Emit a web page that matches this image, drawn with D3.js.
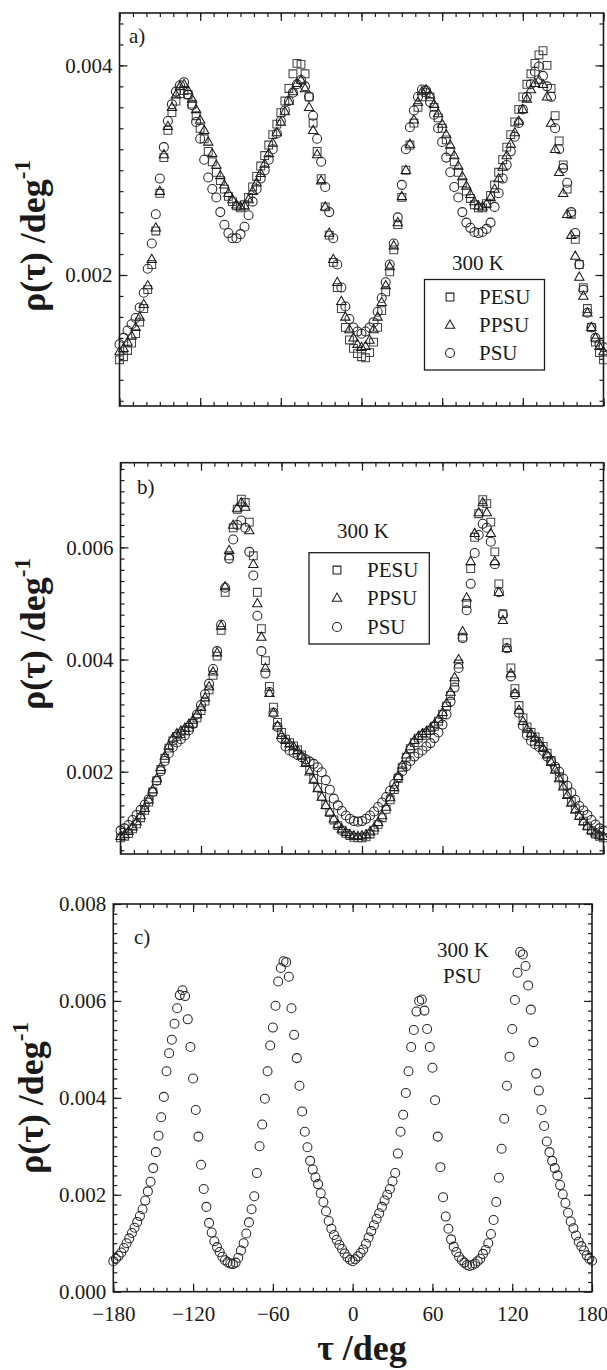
<!DOCTYPE html>
<html><head><meta charset="utf-8">
<script src="https://cdn.jsdelivr.net/npm/d3@7"></script>
<style>
body{margin:0;background:#fff}
svg{display:block}
svg text{font-family:"Liberation Serif","Times New Roman",Times,"DejaVu Serif",serif !important;fill:#1a1a1a}
</style>
</head><body>
<svg id="chart" width="607" height="1370"></svg>
<script>
// ---------- DATA ----------
const tauAB = [
-180,-177,-174,-171,-168,-165,-162,-159,-156,-153,
-150,-147,-144,-141,-138,-135,-132,-129,-126,-123,
-120,-117,-114,-111,-108,-105,-102,-99,-96,-93,
-90,-87,-84,-81,-78,-75,-72,-69,-66,-63,
-60,-57,-54,-51,-48,-45,-42,-39,-36,-33,
-30,-27,-24,-21,-18,-15,-12,-9,-6,-3,
0,3,6,9,12,15,18,21,24,27,
30,33,36,39,42,45,48,51,54,57,
60,63,66,69,72,75,78,81,84,87,
90,93,96,99,102,105,108,111,114,117,
120,123,126,129,132,135,138,141,144,147,
150,153,156,159,162,165,168,171,174,177,
180];

// panel a)
const aPESU = [
0.00119,0.00122,0.00128,0.00135,0.00144,0.00155,0.00168,0.00186,0.00210,0.00242,
0.00278,0.00312,0.00338,0.00355,0.00366,0.00373,0.00376,0.00372,0.00363,0.00352,
0.00340,0.00330,0.00318,0.00308,0.00298,0.00290,0.00282,0.00275,0.00270,0.00266,
0.00264,0.00267,0.00274,0.00284,0.00294,0.00304,0.00314,0.00324,0.00334,0.00344,
0.00355,0.00366,0.00378,0.00392,0.00402,0.00401,0.00392,0.00370,0.00345,0.00318,
0.00292,0.00265,0.00238,0.00212,0.00188,0.00168,0.00150,0.00138,0.00130,0.00125,
0.00122,0.00121,0.00126,0.00136,0.00150,0.00166,0.00184,0.00203,0.00224,0.00248,
0.00274,0.00300,0.00324,0.00345,0.00360,0.00370,0.00374,0.00370,0.00360,0.00350,
0.00340,0.00329,0.00318,0.00308,0.00298,0.00288,0.00280,0.00273,0.00267,0.00264,
0.00264,0.00268,0.00276,0.00286,0.00298,0.00310,0.00322,0.00334,0.00346,0.00358,
0.00370,0.00382,0.00392,0.00402,0.00410,0.00414,0.00400,0.00378,0.00352,0.00328,
0.00305,0.00282,0.00258,0.00234,0.00210,0.00188,0.00168,0.00150,0.00136,0.00126,
0.00119];
const aPPSU = [
0.00127,0.00130,0.00136,0.00142,0.00150,0.00160,0.00172,0.00190,0.00215,0.00245,
0.00280,0.00315,0.00342,0.00360,0.00372,0.00380,0.00382,0.00376,0.00368,0.00358,
0.00348,0.00338,0.00327,0.00316,0.00305,0.00295,0.00286,0.00278,0.00272,0.00267,
0.00265,0.00266,0.00272,0.00280,0.00288,0.00297,0.00306,0.00316,0.00326,0.00336,
0.00346,0.00356,0.00366,0.00375,0.00383,0.00386,0.00378,0.00360,0.00338,0.00315,
0.00290,0.00265,0.00240,0.00215,0.00193,0.00175,0.00160,0.00148,0.00140,0.00134,
0.00131,0.00132,0.00138,0.00148,0.00160,0.00174,0.00190,0.00208,0.00228,0.00250,
0.00275,0.00300,0.00325,0.00348,0.00365,0.00375,0.00377,0.00372,0.00363,0.00354,
0.00344,0.00334,0.00324,0.00314,0.00304,0.00294,0.00285,0.00277,0.00270,0.00266,
0.00265,0.00268,0.00274,0.00282,0.00292,0.00303,0.00314,0.00325,0.00336,0.00347,
0.00358,0.00368,0.00377,0.00383,0.00386,0.00382,0.00370,0.00345,0.00320,0.00298,
0.00278,0.00258,0.00238,0.00218,0.00198,0.00180,0.00164,0.00150,0.00140,0.00132,
0.00127];
const aPSU = [
0.00134,0.00140,0.00147,0.00153,0.00159,0.00169,0.00183,0.00206,0.00230,0.00258,
0.00292,0.00322,0.00347,0.00363,0.00375,0.00381,0.00384,0.00372,0.00362,0.00346,
0.00330,0.00310,0.00293,0.00282,0.00274,0.00260,0.00248,0.00240,0.00235,0.00235,
0.00239,0.00246,0.00257,0.00270,0.00282,0.00292,0.00300,0.00310,0.00320,0.00335,
0.00347,0.00357,0.00366,0.00374,0.00382,0.00386,0.00380,0.00370,0.00352,0.00330,
0.00308,0.00284,0.00260,0.00235,0.00210,0.00188,0.00170,0.00158,0.00150,0.00146,
0.00144,0.00146,0.00150,0.00155,0.00165,0.00178,0.00193,0.00210,0.00230,0.00255,
0.00286,0.00320,0.00341,0.00357,0.00370,0.00377,0.00376,0.00365,0.00353,0.00340,
0.00327,0.00312,0.00298,0.00284,0.00274,0.00260,0.00250,0.00245,0.00241,0.00240,
0.00241,0.00244,0.00250,0.00265,0.00278,0.00292,0.00305,0.00318,0.00332,0.00345,
0.00358,0.00370,0.00382,0.00394,0.00399,0.00390,0.00380,0.00370,0.00340,0.00320,
0.00302,0.00288,0.00260,0.00240,0.00210,0.00186,0.00164,0.00150,0.00140,0.00134,
0.00131];

// panel b)
const bPESU = [
0.00082,0.00085,0.00090,0.00098,0.00107,0.00118,0.00131,0.00146,0.00164,0.00184,
0.00204,0.00224,0.00242,0.00255,0.00263,0.00268,0.00273,0.00279,0.00286,0.00296,
0.00309,0.00326,0.00346,0.00372,0.00406,0.00452,0.00520,0.00585,0.00635,0.00668,
0.00686,0.00680,0.00645,0.00585,0.00520,0.00455,0.00398,0.00352,0.00315,0.00288,
0.00270,0.00258,0.00252,0.00246,0.00239,0.00230,0.00218,0.00204,0.00188,0.00172,
0.00156,0.00141,0.00127,0.00114,0.00104,0.00096,0.00090,0.00086,0.00083,0.00082,
0.00082,0.00084,0.00089,0.00096,0.00106,0.00118,0.00133,0.00150,0.00168,0.00188,
0.00208,0.00226,0.00241,0.00252,0.00260,0.00265,0.00269,0.00274,0.00281,0.00290,
0.00302,0.00317,0.00336,0.00360,0.00392,0.00440,0.00500,0.00562,0.00618,0.00660,
0.00685,0.00678,0.00645,0.00592,0.00535,0.00482,0.00430,0.00385,0.00348,0.00318,
0.00296,0.00280,0.00270,0.00262,0.00254,0.00245,0.00233,0.00220,0.00206,0.00191,
0.00176,0.00161,0.00147,0.00134,0.00122,0.00112,0.00103,0.00095,0.00089,0.00085,
0.00082];
const bPPSU = [
0.00085,0.00088,0.00094,0.00102,0.00111,0.00122,0.00135,0.00150,0.00168,0.00188,
0.00208,0.00228,0.00246,0.00260,0.00268,0.00273,0.00278,0.00285,0.00292,0.00302,
0.00315,0.00332,0.00352,0.00378,0.00412,0.00460,0.00530,0.00595,0.00640,0.00670,
0.00680,0.00672,0.00630,0.00570,0.00500,0.00440,0.00385,0.00340,0.00305,0.00282,
0.00265,0.00256,0.00250,0.00245,0.00238,0.00228,0.00215,0.00200,0.00185,0.00170,
0.00155,0.00140,0.00128,0.00116,0.00106,0.00098,0.00092,0.00088,0.00086,0.00085,
0.00086,0.00088,0.00093,0.00100,0.00110,0.00122,0.00137,0.00154,0.00172,0.00192,
0.00212,0.00230,0.00245,0.00256,0.00263,0.00268,0.00272,0.00278,0.00285,0.00294,
0.00306,0.00322,0.00342,0.00368,0.00400,0.00450,0.00510,0.00575,0.00625,0.00662,
0.00680,0.00662,0.00625,0.00575,0.00520,0.00470,0.00420,0.00375,0.00340,0.00310,
0.00290,0.00276,0.00268,0.00260,0.00252,0.00242,0.00230,0.00217,0.00203,0.00188,
0.00173,0.00158,0.00144,0.00132,0.00121,0.00111,0.00103,0.00096,0.00091,0.00087,
0.00085];
const bPSU = [
0.00095,0.00099,0.00105,0.00114,0.00123,0.00132,0.00141,0.00151,0.00164,0.00184,
0.00201,0.00219,0.00233,0.00244,0.00252,0.00258,0.00265,0.00274,0.00285,0.00302,
0.00319,0.00338,0.00357,0.00383,0.00415,0.00462,0.00528,0.00580,0.00614,0.00640,
0.00648,0.00635,0.00592,0.00550,0.00478,0.00415,0.00375,0.00342,0.00305,0.00280,
0.00260,0.00245,0.00238,0.00234,0.00230,0.00226,0.00222,0.00218,0.00214,0.00208,
0.00199,0.00185,0.00168,0.00152,0.00140,0.00130,0.00122,0.00116,0.00112,0.00111,
0.00112,0.00116,0.00122,0.00129,0.00137,0.00145,0.00155,0.00166,0.00178,0.00190,
0.00201,0.00210,0.00219,0.00227,0.00233,0.00238,0.00245,0.00251,0.00260,0.00270,
0.00284,0.00302,0.00325,0.00350,0.00385,0.00438,0.00488,0.00535,0.00590,0.00622,
0.00642,0.00635,0.00610,0.00570,0.00520,0.00480,0.00420,0.00370,0.00338,0.00305,
0.00282,0.00265,0.00255,0.00249,0.00244,0.00237,0.00227,0.00218,0.00209,0.00200,
0.00188,0.00175,0.00163,0.00150,0.00139,0.00131,0.00123,0.00114,0.00106,0.00099,
0.00095];

// panel c)
const tauC = [
-180,-178,-176,-174,-172,-170,-168,-166,-164,-162,
-160,-158,-156,-154,-152,-150,-148,-146,-144,-142,
-140,-138,-136,-134,-132,-130,-128,-126,-124,-122,
-120,-118,-116,-114,-112,-110,-108,-106,-104,-102,
-100,-98,-96,-94,-92,-90,-88,-86,-84,-82,
-80,-78,-76,-74,-72,-70,-68,-66,-64,-62,
-60,-58,-56,-54,-52,-50,-48,-46,-44,-42,
-40,-38,-36,-34,-32,-30,-28,-26,-24,-22,
-20,-18,-16,-14,-12,-10,-8,-6,-4,-2,
0,2,4,6,8,10,12,14,16,18,
20,22,24,26,28,30,32,34,36,38,
40,42,44,46,48,50,52,54,56,58,
60,62,64,66,68,70,72,74,76,78,
80,82,84,86,88,90,92,94,96,98,
100,102,104,106,108,110,112,114,116,118,
120,122,124,126,128,130,132,134,136,138,
140,142,144,146,148,150,152,154,156,158,
160,162,164,166,168,170,172,174,176,178,
180];
const cPSU = [
0.00063,0.00068,0.00074,0.00081,0.00090,0.00100,0.00110,0.00121,0.00132,0.00144,
0.00156,0.00170,0.00188,0.00207,0.00227,0.00255,0.00288,0.00322,0.00360,0.00402,
0.00455,0.00492,0.00520,0.00553,0.00585,0.00612,0.00622,0.00610,0.00562,0.00505,
0.00440,0.00375,0.00320,0.00262,0.00212,0.00175,0.00142,0.00122,0.00104,0.00092,
0.00082,0.00072,0.00065,0.00061,0.00058,0.00057,0.00060,0.00070,0.00085,0.00100,
0.00120,0.00143,0.00170,0.00197,0.00245,0.00300,0.00345,0.00398,0.00455,0.00508,
0.00545,0.00590,0.00640,0.00668,0.00682,0.00680,0.00650,0.00585,0.00530,0.00482,
0.00425,0.00372,0.00330,0.00298,0.00270,0.00252,0.00236,0.00222,0.00203,0.00185,
0.00166,0.00146,0.00130,0.00117,0.00107,0.00097,0.00088,0.00079,0.00071,0.00066,
0.00063,0.00067,0.00073,0.00080,0.00087,0.00099,0.00112,0.00125,0.00137,0.00150,
0.00162,0.00175,0.00188,0.00200,0.00212,0.00228,0.00245,0.00285,0.00330,0.00365,
0.00410,0.00455,0.00505,0.00540,0.00578,0.00600,0.00603,0.00580,0.00542,0.00505,
0.00462,0.00395,0.00320,0.00257,0.00195,0.00155,0.00130,0.00108,0.00093,0.00082,
0.00072,0.00065,0.00060,0.00055,0.00053,0.00055,0.00058,0.00063,0.00068,0.00078,
0.00086,0.00100,0.00119,0.00148,0.00185,0.00235,0.00295,0.00357,0.00425,0.00485,
0.00542,0.00602,0.00658,0.00701,0.00696,0.00672,0.00632,0.00582,0.00515,0.00450,
0.00415,0.00375,0.00342,0.00310,0.00288,0.00270,0.00255,0.00240,0.00220,0.00201,
0.00183,0.00163,0.00145,0.00131,0.00116,0.00103,0.00094,0.00085,0.00075,0.00068,
0.00064];

const seriesNames = ["PESU", "PPSU", "PSU"];
const xTickLabels = [-180, -120, -60, 0, 60, 120, 180];
const yTicksA = [0.002, 0.004];
const yTicksB = [0.002, 0.004, 0.006];
const yTicksC = [0.000, 0.002, 0.004, 0.006, 0.008];
const panelTags = ["a)", "b)", "c)"];
const tempLabel = "300 K";

// ---------- DRAW ----------
const FONT = '"Liberation Serif","Times New Roman",Times,"DejaVu Serif",serif';
const svg = d3.select("#chart");
const INK = "#1c1c1c";

function txt(sel) { return sel.style("font-family", FONT).attr("fill", INK); }

function symbolPath(kind) {
  if (kind === "PESU") return "M-3.9,-3.9H3.9V3.9H-3.9Z";
  if (kind === "PPSU") return "M0,-5.0L4.7,3.2H-4.7Z";
  return null;
}
function drawMarker(g, kind, cx, cy, color) {
  if (kind === "PSU") {
    g.append("circle").attr("cx", cx).attr("cy", cy).attr("r", 4.5)
      .attr("fill", "none").attr("stroke", color).attr("stroke-width", 1.05);
  } else {
    g.append("path").attr("d", symbolPath(kind)).attr("transform", `translate(${cx},${cy})`)
      .attr("fill", "none").attr("stroke", color).attr("stroke-width", 1.05);
  }
}
const markerColor = {PESU: "#444", PPSU: "#1a1a1a", PSU: "#262626"};

function panel(p) {
  const x = d3.scaleLinear().domain([-180, 180]).range([p.left, p.right]);
  const y = d3.scaleLinear().domain(p.yDomain).range([p.bottom, p.top]);
  const g = svg.append("g");

  p.series.forEach(s => {
    const sg = g.append("g");
    s.values.forEach((v, i) => drawMarker(sg, s.name, x(p.tau[i]), y(v), markerColor[s.name]));
  });

  const minorX = d3.range(-180, 181, 10);
  const minorY = d3.range(0, 0.0081, 0.0002).filter(v => v > p.yDomain[0] + 1e-7 && v < p.yDomain[1] - 1e-7);
  const mk = (axis, tx, ty) => {
    const a = g.append("g").attr("transform", `translate(${tx},${ty})`).call(axis);
    a.select(".domain").remove();
    a.selectAll("line").attr("stroke", INK).attr("stroke-width", 1.2);
    return a;
  };
  mk(d3.axisBottom(x).tickValues(minorX).tickSize(-4).tickFormat(""), 0, p.bottom);
  mk(d3.axisTop(x).tickValues(minorX).tickSize(-4).tickFormat(""), 0, p.top);
  mk(d3.axisBottom(x).tickValues(xTickLabels).tickSize(-8).tickFormat(""), 0, p.bottom);
  mk(d3.axisTop(x).tickValues(xTickLabels).tickSize(-8).tickFormat(""), 0, p.top);
  mk(d3.axisLeft(y).tickValues(minorY).tickSize(-4).tickFormat(""), p.left, 0);
  mk(d3.axisRight(y).tickValues(minorY).tickSize(-4).tickFormat(""), p.right, 0);
  const yl = mk(d3.axisLeft(y).tickValues(p.yTicks).tickSize(-8).tickPadding(7).tickFormat(d3.format(".3f")), p.left, 0);
  yl.attr("font-family", null).attr("font-size", null);
  txt(yl.selectAll("text").attr("font-size", 21));
  mk(d3.axisRight(y).tickValues(p.yTicks).tickSize(-8).tickFormat(""), p.right, 0);
  if (p.xLabels) {
    const xl = mk(d3.axisBottom(x).tickValues(xTickLabels).tickSize(0).tickPadding(14).tickFormat(d3.format("d")), 0, p.bottom);
    xl.attr("font-family", null).attr("font-size", null);
    txt(xl.selectAll("text").attr("font-size", 21));
  }

  g.append("rect").attr("x", p.left).attr("y", p.top)
    .attr("width", p.right - p.left).attr("height", p.bottom - p.top)
    .attr("fill", "none").attr("stroke", INK).attr("stroke-width", 1.6);

  txt(g.append("text").attr("x", p.tag[0]).attr("y", p.tag[1]).attr("font-size", 21).text(p.tagText));

  const t = txt(g.append("text")
    .attr("transform", `translate(${p.titleX},${p.titleY}) rotate(-90)`)
    .attr("text-anchor", "middle").attr("font-size", 36).attr("font-weight", "bold"));
  t.append("tspan").text("ρ(τ) /deg");
  t.append("tspan").attr("dy", -15).attr("font-size", 23).text("-1");

  return {x, y, g};
}

function legend(g, bx, by, bw, bh, mx, tx, rows) {
  g.append("rect").attr("x", bx).attr("y", by).attr("width", bw).attr("height", bh)
    .attr("fill", "#fff").attr("stroke", INK).attr("stroke-width", 1.3);
  seriesNames.forEach((n, i) => {
    drawMarker(g, n, mx, rows[i], INK);
    txt(g.append("text").attr("x", tx).attr("y", rows[i] + 7).attr("font-size", 21).text(n));
  });
}

const A = panel({left: 119.5, right: 603.5, top: 13, bottom: 406, yDomain: [0.00075, 0.0045],
  yTicks: yTicksA, tau: tauAB, tag: [129, 43], tagText: panelTags[0], titleX: 45, titleY: 236,
  series: [{name: "PESU", values: aPESU}, {name: "PPSU", values: aPPSU}, {name: "PSU", values: aPSU}]});
txt(A.g.append("text").attr("x", 452).attr("y", 270).attr("font-size", 21).text(tempLabel));
legend(A.g, 424.5, 279.5, 120, 90.5, 450, 479, [297, 325, 353]);

const B = panel({left: 120.5, right: 603.5, top: 462.7, bottom: 854, yDomain: [0.000533, 0.00751],
  yTicks: yTicksB, tau: tauAB, tag: [137, 494], tagText: panelTags[1], titleX: 45, titleY: 634,
  series: [{name: "PESU", values: bPESU}, {name: "PPSU", values: bPPSU}, {name: "PSU", values: bPSU}]});
txt(B.g.append("text").attr("x", 337).attr("y", 538).attr("font-size", 21).text(tempLabel));
legend(B.g, 309, 552.7, 120.3, 91.3, 337, 367, [570, 598, 627]);

const C = panel({left: 113.3, right: 592, top: 904, bottom: 1291.7, yDomain: [0, 0.008],
  yTicks: yTicksC, tau: tauC, tag: [134, 944], tagText: panelTags[2], titleX: 43, titleY: 1098,
  xLabels: true, series: [{name: "PSU", values: cPSU}]});
txt(C.g.append("text").attr("x", 437).attr("y", 957).attr("font-size", 21).text(tempLabel));
txt(C.g.append("text").attr("x", 443).attr("y", 983).attr("font-size", 21).text("PSU"));

txt(svg.append("text").attr("x", 362).attr("y", 1360).attr("text-anchor", "middle")
  .attr("font-size", 36).attr("font-weight", "bold").text("τ /deg"));
</script>
</body></html>
